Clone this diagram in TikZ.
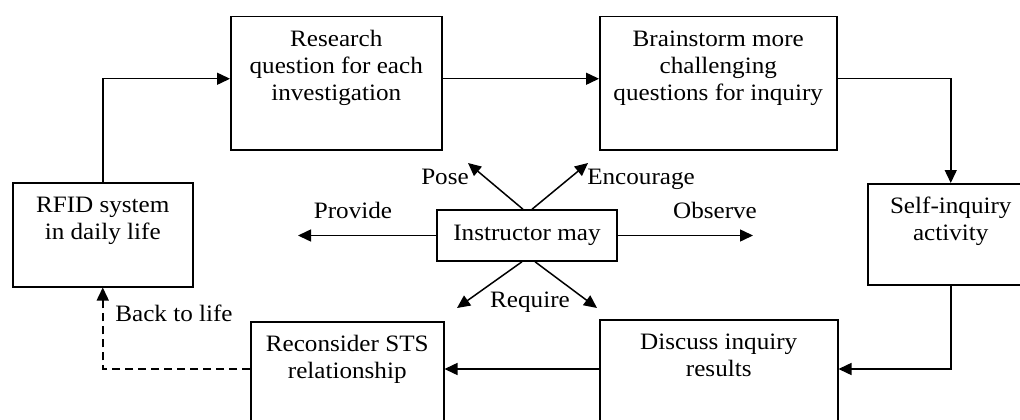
\documentclass[tikz,border=0pt]{standalone}
\usepackage{fontspec}
\setmainfont{Liberation Serif}[FakeStretch=1.07]
\usetikzlibrary{arrows.meta}
\newcommand{\bxt}[3]{\parbox[c][#2][t]{#1}{\centering\rule{0pt}{30pt}#3\par}}
\begin{document}
\begin{tikzpicture}[x=1pt,y=-1pt,
  font=\fontsize{23.5}{27}\selectfont,
  stepbox/.style={draw,line width=1.5pt,inner sep=0pt,anchor=north west},
  arr/.style={line width=1.5pt,-{Triangle[length=13pt,width=12pt]}},
  darr/.style={arr,dash pattern=on 8pt off 5pt},
  lbl/.style={anchor=base,inner sep=0pt}]
\useasboundingbox (0,0) rectangle (1020,420);
\clip (0,0) rectangle (1020,420);
\fill[white] (0,0) rectangle (1020,420);
% boxes
\node[stepbox] (res) at (230,16) {\bxt{211pt}{133pt}{Research\\question for each\\investigation}};
\node[stepbox] (brain) at (599,16) {\bxt{237pt}{133pt}{Brainstorm more\\challenging\\questions for inquiry}};
\node[stepbox] (rfid) at (12,182) {\bxt{180pt}{104pt}{RFID system\\in daily life}};
\node[stepbox] (self) at (867,183) {\bxt{166pt}{101pt}{Self-inquiry\\activity}};
\node[stepbox] (disc) at (599,319) {\bxt{238pt}{150pt}{Discuss inquiry\\results}};
\node[stepbox] (rec) at (250,321) {\bxt{193pt}{150pt}{Reconsider STS\\relationship}};
\node[draw,line width=1.5pt,minimum width=180pt,minimum height=51pt,inner sep=0pt] (instr) at (527,235.5) {Instructor may};
% free ends
\coordinate (pL) at (298,235.5);
\coordinate (pR) at (753,235.5);
\coordinate (pPose) at (468,163);
\coordinate (pEnc) at (588,163);
\coordinate (pRqL) at (457,308);
\coordinate (pRqR) at (597,308);
% main cycle
\draw[arr] (rfid.north) |- ([yshift=4.5pt]res.west);
\draw[arr] ([yshift=4.5pt]res.east) -- ([yshift=4.5pt]brain.west);
\draw[arr] ([yshift=4.5pt]brain.east) -| (self.north);
\draw[arr] (self.south) |- ([yshift=-50pt]disc.north east);
\draw[arr] ([yshift=-50pt]disc.north west) -- ([yshift=-48pt]rec.north east);
\draw[darr] ([yshift=-48pt]rec.north west) -| (rfid.south);
% instructor arrows
\draw[arr] (instr.west) -- (pL);
\draw[arr] (instr.east) -- (pR);
\draw[arr] ([xshift=-4pt]instr.north) -- (pPose);
\draw[arr] ([xshift=5pt]instr.north) -- (pEnc);
\draw[arr] ([xshift=-5pt]instr.south) -- (pRqL);
\draw[arr] ([xshift=8pt]instr.south) -- (pRqR);
% labels
\node[lbl] (lPose) at (445,184) {Pose};
\node[lbl] (lEnc) at (641,184) {Encourage};
\node[lbl] (lProv) at (353,218) {Provide};
\node[lbl] (lObs) at (715,218) {Observe};
\node[lbl] (lReq) at (530,307) {Require};
\node[lbl] (lBack) at (174,321) {Back to life};
\end{tikzpicture}
\end{document}
